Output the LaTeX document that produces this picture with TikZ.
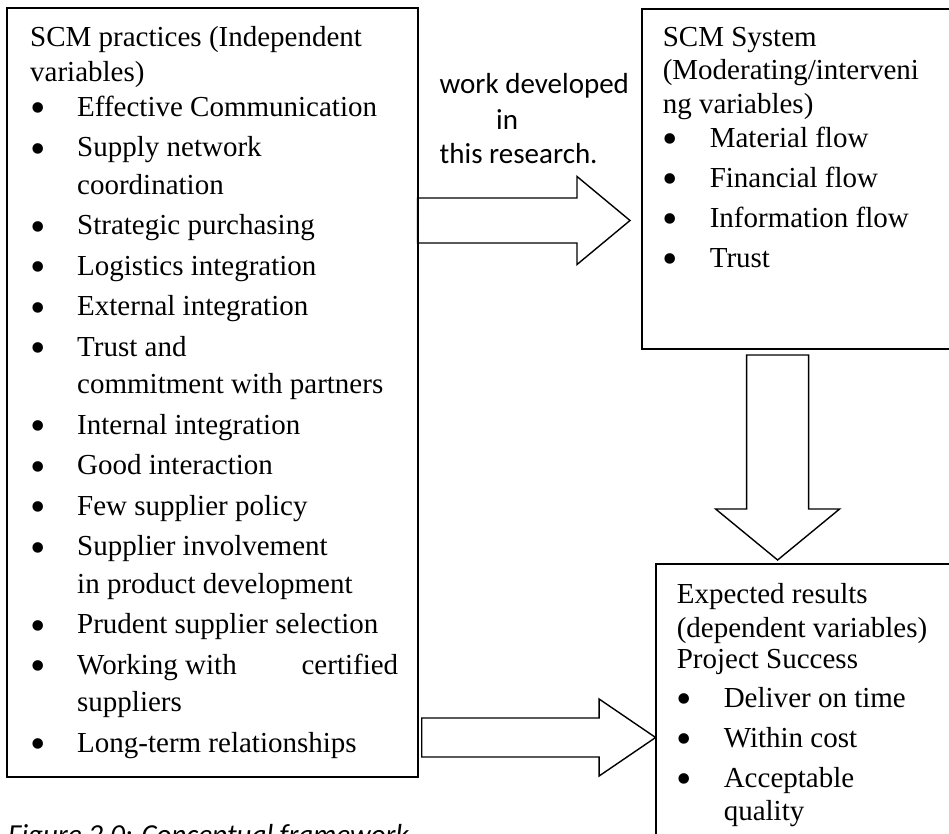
\documentclass[tikz,border=0pt]{standalone}
\usepackage{fontspec}
\setmainfont{Liberation Serif}
\newfontfamily\notefont{Carlito}
\usetikzlibrary{positioning,calc}

\newcommand{\bul}{\makebox[47pt][l]{\raisebox{-6.5pt}{\fontsize{44}{44}\selectfont\textbullet}}}
\newcommand{\cont}{\hspace*{47pt}}
\newcommand{\firstline}{\rule{0pt}{24pt}}

% block arrows: start, tip, shaft half width, head half width, head length
\newcommand{\rightblock}[5]{%
  \draw[blockarrow] ($#1+(0,-#3)$) -- ($#2+(-#5,-#3)$) -- ($#2+(-#5,-#4)$) -- #2
    -- ($#2+(-#5,#4)$) -- ($#2+(-#5,#3)$) -- ($#1+(0,#3)$) -- cycle;}
\newcommand{\downblock}[5]{%
  \draw[blockarrow] ($#1+(-#3,0)$) -- ($#2+(-#3,-#5)$) -- ($#2+(-#4,-#5)$) -- #2
    -- ($#2+(#4,-#5)$) -- ($#2+(#3,-#5)$) -- ($#1+(#3,0)$) -- cycle;}

\begin{document}
\begin{tikzpicture}[
  x=1pt, y=-1pt,
  panel/.style={rectangle, draw, line width=2pt, inner sep=0pt, outer sep=0pt, anchor=north west},
  listtext/.style={inner sep=0pt, anchor=north west, align=left, font=\fontsize{29}{34.5}\selectfont},
  notetext/.style={inner sep=0pt, anchor=north west, align=left, font=\notefont\fontsize{29}{36}\selectfont},
  blockarrow/.style={line width=1.4pt, line join=miter}
]
\clip (0,0) rectangle (949,834);

% the three boxes
\node[panel, minimum width=410.5pt, minimum height=769pt] (practices) at (7,8) {};
\node[panel, minimum width=340pt, minimum height=339.5pt] (system) at (641.6,9) {};
\node[panel, minimum width=330pt, minimum height=300pt] (results) at (655.6,564) {};

% box contents
\node[listtext] (practicesList) at ($(practices.north west)+(23,14.7)$) {\firstline SCM practices (Independent\\[0.5pt]
  variables)\\
  \bul Effective Communication\\[6pt]
  \bul Supply network\\[3pt]
  \cont coordination\\[6pt]
  \bul Strategic purchasing\\[6pt]
  \bul Logistics integration\\[6pt]
  \bul External integration\\[6pt]
  \bul Trust and\\[3pt]
  \cont commitment with partners\\[6pt]
  \bul Internal integration\\[6pt]
  \bul Good interaction\\[6pt]
  \bul Few supplier policy\\[6pt]
  \bul Supplier involvement\\[3pt]
  \cont in product development\\[6pt]
  \bul Prudent supplier selection\\[6pt]
  \bul \makebox[321pt][s]{Working with\hfill certified}\\[3pt]
  \cont suppliers\\[6pt]
  \bul Long-term relationships};

\node[listtext] (systemList) at ($(system.north west)+(21,13)$) {\firstline SCM System\\[-1.5pt]
  (Moderating/interveni\\[-0.5pt]
  ng variables)\\[-0.5pt]
  \bul Material flow\\[5.5pt]
  \bul Financial flow\\[5.5pt]
  \bul Information flow\\[5.5pt]
  \bul Trust};

\node[listtext] (resultsList) at ($(results.north west)+(21,15)$) {\firstline Expected results\\[-0.5pt]
  (dependent variables)\\[-3.5pt]
  Project Success\\[4.5pt]
  \bul Deliver on time\\[5.5pt]
  \bul Within cost\\[5.5pt]
  \bul Acceptable\\[-1.5pt]
  \cont quality};

\node[notetext] (note) at ($(practices.north east)+(22,61.3)$) {\firstline work developed\\
  \hspace*{56.5pt}in\\[-1.7pt]
  this research.};

\node[anchor=base west, inner sep=0pt, font=\notefont\itshape\fontsize{29}{34}\selectfont] (caption)
  at ($(practices.south west)+(1,67)$) {Figure 2.0: Conceptual framework};

% arrows
\coordinate (row1) at (0,220.5);
\coordinate (row3) at (0,737.5);
\coordinate (col2) at (777.6,0);
\coordinate (a1s) at (practices.east |- row1);
\coordinate (a1t) at ($(system.west |- row1)+(-11.6,0)$);
\coordinate (a2s) at ($(system.south -| col2)+(0,6.5)$);
\coordinate (a2t) at ($(results.north -| col2)+(0,-4)$);
\coordinate (a3s) at ($(practices.east |- row3)+(4.2,0)$);
\coordinate (a3t) at (results.west |- row3);
\rightblock{(a1s)}{(a1t)}{22.5}{44}{53}
\downblock{(a2s)}{(a2t)}{31}{62}{51}
\rightblock{(a3s)}{(a3t)}{19.5}{38.5}{56.5}
\end{tikzpicture}
\end{document}
